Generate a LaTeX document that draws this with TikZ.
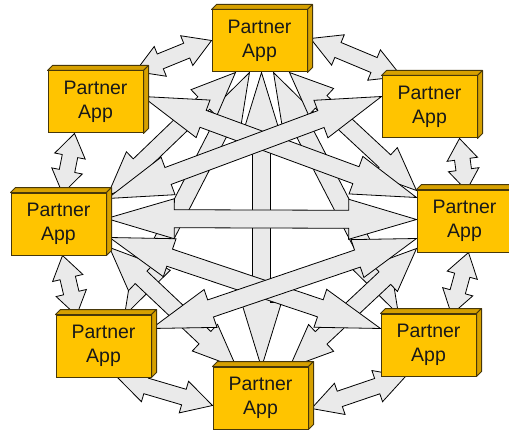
\documentclass[tikz,border=0pt]{standalone}
\usepackage{fontspec}
\setmainfont{Liberation Sans}
\usetikzlibrary{calc,backgrounds}
\definecolor{gold}{RGB}{255,196,0}
\definecolor{golddark}{RGB}{214,160,0}
\definecolor{boxline}{RGB}{70,55,10}
\definecolor{arrowfill}{RGB}{234,234,234}
\tikzset{
  appbox/.style={draw=boxline, fill=gold, line width=1pt, minimum width=95pt,
    minimum height=62pt, inner sep=0pt, align=center,
    font=\fontsize{19.5}{24}\selectfont, text=black!90},
  boxface/.style={draw=boxline, fill=golddark, line width=1pt, line join=round},
  fatarrow/.style={draw=black, fill=arrowfill, line width=0.8pt, line join=miter},
}
% name, x, y
\newcommand\appbox[3]{%
  \node[appbox] (#1) at (#2,#3) {Partner\\App};
  \draw[boxface] (#1.north west) -- ++(5,5) -- ($(#1.north east)+(5,5)$) -- (#1.north east) -- cycle;
  \draw[boxface] (#1.north east) -- ++(5,5) -- ($(#1.south east)+(5,5)$) -- (#1.south east) -- cycle;
}
% fat double arrow between points given relative to nodes' south west corners
\newcommand\fatarrow[6]{%
  \path[fatarrow] let \p1=($(#1.south west)+(#2,#3)$), \p2=($(#4.south west)+(#5,#6)$),
    \n1={atan2(\y2-\y1,\x2-\x1)},
    \n2={veclen(\x2-\x1,\y2-\y1)},
    \n3={min(0.18*\n2+12,0.4*\n2)},
    \n4={min(20,14+0.025*\n2)},
    \n5={min(9,7.5+0.006*\n2)} in
    (\p1)
    -- ($(\p1)+(\n1:\n3)+(\n1+90:\n4)$)
    -- ($(\p1)+(\n1:\n3)+(\n1+90:\n5)$)
    -- ($(\p2)+(\n1:-\n3)+(\n1+90:\n5)$)
    -- ($(\p2)+(\n1:-\n3)+(\n1+90:\n4)$)
    -- (\p2)
    -- ($(\p2)+(\n1:-\n3)+(\n1-90:\n4)$)
    -- ($(\p2)+(\n1:-\n3)+(\n1-90:\n5)$)
    -- ($(\p1)+(\n1:\n3)+(\n1-90:\n5)$)
    -- ($(\p1)+(\n1:\n3)+(\n1-90:\n4)$)
    -- cycle;
}
\begin{document}
\begin{tikzpicture}[x=1pt,y=1pt]
\useasboundingbox (0,0) rectangle (509,432);
\appbox{T}{259.5}{391}
\appbox{TL}{95.5}{330}
\appbox{TR}{429.5}{325}
\appbox{L}{58.5}{208}
\appbox{R}{464.5}{211}
\appbox{BL}{103.5}{86}
\appbox{BR}{428.5}{87}
\appbox{B}{260.5}{34}
\begin{pgfonlayer}{background}
% long arrows
\fatarrow{T}{38}{0}{BL}{69}{62}
\fatarrow{T}{62}{0}{BR}{18}{62}
\fatarrow{T}{24}{0}{L}{97}{60}
\fatarrow{T}{78}{0}{R}{0}{62}
\fatarrow{L}{99}{8}{B}{24}{62}
\fatarrow{R}{0}{4}{B}{77}{62}
\fatarrow{T}{50}{0}{B}{49}{62}
\fatarrow{TL}{95}{37}{R}{0}{55}
\fatarrow{TR}{0}{42}{L}{97}{57}
\fatarrow{L}{99}{18}{BR}{0}{48}
\fatarrow{BL}{96}{49}{R}{0}{14}
\fatarrow{L}{96}{37}{R}{0}{33}
% adjacent arrows
\fatarrow{T}{0}{32}{TL}{88}{62}
\fatarrow{T}{99}{34}{TR}{20}{62}
\fatarrow{TR}{78}{0}{R}{50}{62}
\fatarrow{R}{52}{0}{BR}{71}{62}
\fatarrow{BR}{25}{0}{B}{99}{21}
\fatarrow{B}{0}{24}{BL}{62}{0}
\fatarrow{L}{52}{0}{BL}{21}{62}
\fatarrow{L}{52}{62}{TL}{27}{0}
\end{pgfonlayer}
\end{tikzpicture}
\end{document}
